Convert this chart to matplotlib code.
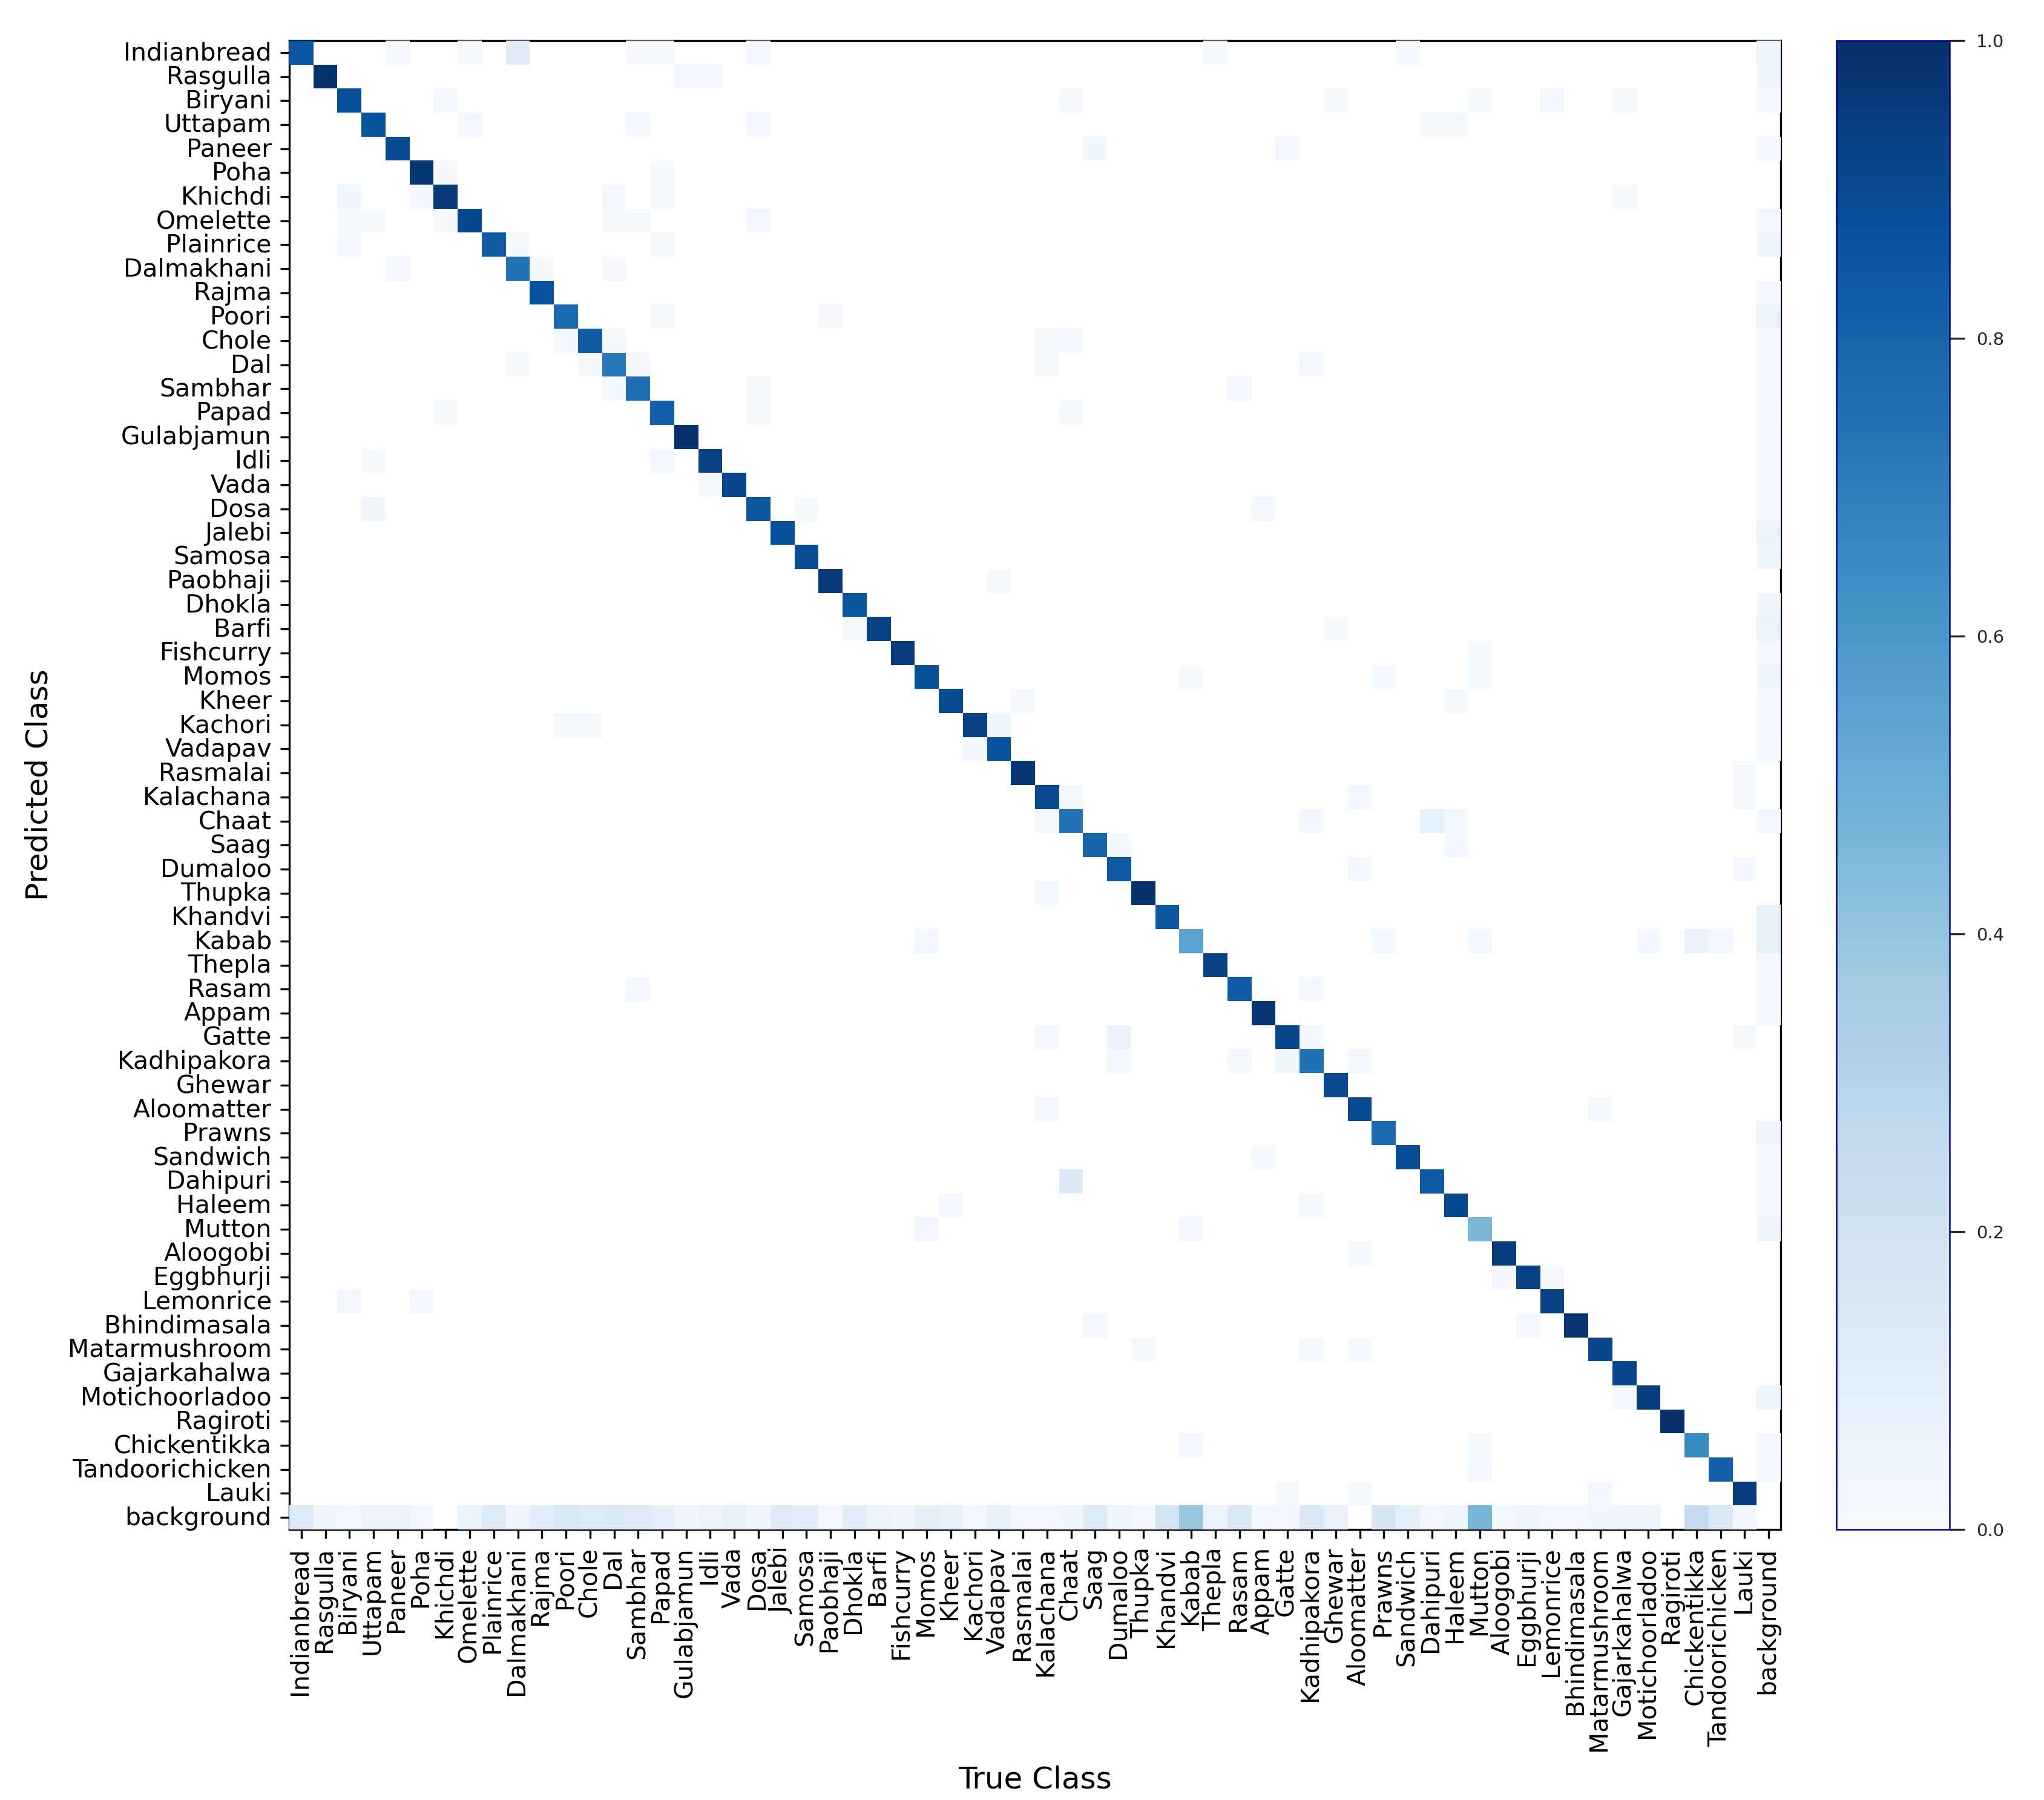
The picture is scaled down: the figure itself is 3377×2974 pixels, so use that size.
#!/usr/bin/env python
# -*- coding: utf-8 -*-

import numpy as np
import matplotlib
matplotlib.use("Agg")
import matplotlib.pyplot as plt
from matplotlib.transforms import ScaledTranslation

classes = ['Indianbread', 'Rasgulla', 'Biryani', 'Uttapam', 'Paneer', 'Poha', 'Khichdi', 'Omelette',
           'Plainrice', 'Dalmakhani', 'Rajma', 'Poori', 'Chole', 'Dal', 'Sambhar', 'Papad',
           'Gulabjamun', 'Idli', 'Vada', 'Dosa', 'Jalebi', 'Samosa', 'Paobhaji', 'Dhokla',
           'Barfi', 'Fishcurry', 'Momos', 'Kheer', 'Kachori', 'Vadapav', 'Rasmalai', 'Kalachana',
           'Chaat', 'Saag', 'Dumaloo', 'Thupka', 'Khandvi', 'Kabab', 'Thepla', 'Rasam',
           'Appam', 'Gatte', 'Kadhipakora', 'Ghewar', 'Aloomatter', 'Prawns', 'Sandwich', 'Dahipuri',
           'Haleem', 'Mutton', 'Aloogobi', 'Eggbhurji', 'Lemonrice', 'Bhindimasala', 'Matarmushroom',
           'Gajarkahalwa', 'Motichoorladoo', 'Ragiroti', 'Chickentikka', 'Tandoorichicken', 'Lauki',
           'background']

diagonal = [.85, .99, .88, .87, .90, .97, .96, .91, .83, .74, .87, .78, .83, .73, .76, .81,
            1.0, .93, .92, .85, .88, .89, .96, .86, .93, .95, .88, .90, .93, .87, .97, .90,
            .74, .80, .84, .99, .85, .55, .93, .83, .98, .92, .75, .90, .90, .78, .89, .84,
            .91, .46, .95, .94, .93, .98, .92, .92, .95, 1.0, .66, .81, .95, np.nan]

# (predicted row, true column, value)
misses = [
    (0, 4, .02), (0, 7, .012), (0, 9, .12), (0, 14, .012), (0, 15, .012), (0, 19, .025), (0, 38, .018), (0, 46, .025),
    (1, 16, .02), (1, 17, .02),
    (2, 6, .025), (2, 32, .015), (2, 43, .018), (2, 49, .018), (2, 52, .03), (2, 55, .015),
    (3, 7, .025), (3, 14, .02), (3, 19, .03), (3, 47, .018), (3, 48, .018),
    (4, 33, .05), (4, 41, .03),
    (5, 6, .012), (5, 15, .015),
    (6, 2, .04), (6, 5, .025), (6, 13, .03), (6, 15, .015), (6, 55, .015),
    (7, 2, .018), (7, 3, .018), (7, 6, .015), (7, 13, .018), (7, 14, .018), (7, 19, .025),
    (8, 2, .02), (8, 9, .018), (8, 15, .015),
    (9, 4, .02), (9, 10, .015), (9, 13, .015),
    (11, 15, .015), (11, 22, .012),
    (12, 11, .02), (12, 13, .015), (12, 31, .015), (12, 32, .03),
    (13, 9, .018), (13, 12, .015), (13, 14, .015), (13, 31, .015), (13, 42, .03),
    (14, 13, .025), (14, 19, .018), (14, 39, .03),
    (15, 6, .015), (15, 19, .018), (15, 32, .018),
    (17, 3, .018), (17, 15, .025),
    (18, 17, .015),
    (19, 3, .04), (19, 21, .018), (19, 40, .03),
    (22, 29, .018),
    (24, 23, .018), (24, 43, .018),
    (25, 49, .018),
    (26, 37, .015), (26, 45, .025), (26, 49, .018),
    (27, 30, .015), (27, 48, .018),
    (28, 11, .018), (28, 12, .018), (28, 29, .05),
    (29, 28, .025),
    (30, 60, .018),
    (31, 32, .015), (31, 44, .025), (31, 60, .018),
    (32, 31, .015), (32, 42, .025), (32, 47, .08), (32, 48, .03),
    (33, 34, .015), (33, 48, .02),
    (34, 44, .035), (34, 60, .02),
    (35, 31, .03),
    (37, 26, .035), (37, 45, .03), (37, 49, .03), (37, 56, .02), (37, 58, .07), (37, 59, .02),
    (39, 14, .03), (39, 42, .025),
    (41, 31, .025), (41, 34, .07), (41, 42, .012), (41, 60, .018),
    (42, 34, .02), (42, 39, .02), (42, 41, .04), (42, 44, .02),
    (44, 31, .025), (44, 54, .02),
    (46, 40, .02),
    (47, 32, .14),
    (48, 27, .03), (48, 42, .025),
    (49, 26, .03), (49, 37, .025),
    (50, 44, .025),
    (51, 50, .025), (51, 52, .012),
    (52, 2, .03), (52, 5, .03),
    (53, 33, .025), (53, 51, .02),
    (54, 35, .018), (54, 42, .025), (54, 44, .025),
    (56, 55, .02),
    (58, 37, .025), (58, 49, .018),
    (59, 49, .025),
    (60, 41, .018), (60, 44, .018), (60, 54, .025),
]

# last column, background predicted as a class
background_col = [.05, .04, .02, np.nan, .03, np.nan, np.nan, .025, .04, np.nan, .025, .055, .03, .03, .03, .025,
                  .035, .03, .03, .03, .055, .04, np.nan, .04, .06, .03, .04, .03, .03, .025, np.nan, np.nan,
                  .025, np.nan, np.nan, np.nan, .08, .08, .03, .02, .025, np.nan, np.nan, np.nan, np.nan, .045,
                  .025, .02, .02, .04, np.nan, np.nan, np.nan, np.nan, np.nan, np.nan, .05, np.nan, .02, .03,
                  np.nan, np.nan]

# last row, class predicted as background
background_row = [.13, .04, .02, .06, .06, .03, np.nan, .06, .13, .05, .11, .15, .13, .14, .12, .10,
                  .04, .06, .08, .04, .12, .11, .03, .11, .06, .04, .09, .08, .03, .08, .02, .02,
                  .04, .13, .04, .02, .18, .39, .06, .14, .02, .02, .14, .07, np.nan, .17,
                  .10, .03, .05, .47, .03, .05, .02, .02, .04, .05, .05, np.nan, .25, .14, .02, np.nan]

n = len(classes)
matrix = np.full((n, n), np.nan)
matrix[np.arange(n), np.arange(n)] = diagonal
for r, c, v in misses:
    matrix[r, c] = v
matrix[:, -1] = background_col
matrix[-1, :] = background_row

W, H = 3377, 2974
fig = plt.figure(figsize=(W / 300, H / 300), dpi=300)
ax = fig.add_axes([478 / W, 1 - 2527 / H, (2942 - 478) / W, (2527 - 67) / H])

# mesh sits over the spines, the black frame only shows next to empty cells
mesh = ax.pcolormesh(matrix, cmap='Blues', vmin=0, vmax=1, zorder=3)
ax.set_xlim(0, n)
ax.set_ylim(n, 0)
ticks = np.arange(n) + 0.5
ax.set_xticks(ticks)
ax.set_yticks(ticks)
ax.set_xticklabels(classes, rotation=90, fontsize=9.8)
ax.set_yticklabels(classes, fontsize=9.8)
ax.set_xlabel('True Class', fontsize=12, va='center')
ax.set_ylabel('Predicted Class', fontsize=12, va='center')
ax.xaxis.set_label_coords(0.5, -0.168)
ax.yaxis.set_label_coords(-0.168, 0.5)

# nudge the tick labels a few pixels, they sit off the ticks in the reference
up = ScaledTranslation(0, 3 / 300, fig.dpi_scale_trans)
left = ScaledTranslation(-2 / 300, 0, fig.dpi_scale_trans)
for lab in ax.get_yticklabels():
    lab.set_transform(lab.get_transform() + up)
for lab in ax.get_xticklabels():
    lab.set_transform(lab.get_transform() + left)

cax = fig.add_axes([3034 / W, 1 - 2527 / H, (3221 - 3034) / W, (2527 - 67) / H])
cbar = fig.colorbar(mesh, cax=cax)
cbar.set_ticks([0, .2, .4, .6, .8, 1.0])
cbar.ax.tick_params(labelsize=7, length=6, width=0.8, color='#262626', labelcolor='#262626', pad=4.5)
cbar.outline.set_edgecolor('#00008b')
cbar.outline.set_linewidth(0.6)

fig.savefig('out.png', dpi=300)
